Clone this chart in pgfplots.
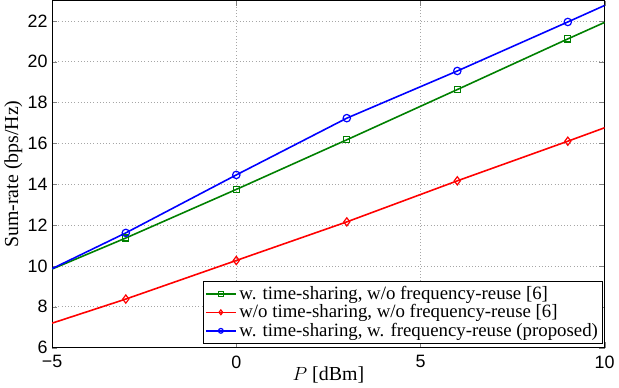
\documentclass[border=0pt]{standalone}
\usepackage{fontspec}
\setmainfont{Liberation Serif}
\newfontfamily\ticksfont{Liberation Sans}
\usepackage{pgfplots}
\pgfplotsset{compat=1.18}
\definecolor{mgreen}{rgb}{0,0.5,0}
\begin{document}
\begin{tikzpicture}
\begin{axis}[
  scale only axis,
  width=417pt, height=262pt,
  xmin=-5, xmax=10, ymin=6, ymax=23,
  xtick={-5,0,5,10},
  xticklabels={−5,0,5,10},
  ytick={6,8,...,22},
  tick label style={font=\ticksfont\fontsize{13.5}{14}\selectfont},
  xticklabel style={yshift=-2.5pt},
  /pgf/number format/assume math mode=true,
  tick align=inside,
  xtick pos=both, ytick pos=both,
  major tick length=4pt,
  grid=major,
  major grid style={gray!70, dotted, line width=0.6pt},
  axis line style={line width=0.8pt},
  xlabel={$P$ [dBm]},
  ylabel={Sum-rate (bps/Hz)},
  label style={font=\fontsize{15}{16}\selectfont},
  xlabel style={yshift=8pt},
  ylabel style={yshift=-3pt},
  legend cell align=left,
  legend style={at={(0.997,0.012)}, anchor=south east, draw=black, line width=0.6pt,
    font=\fontsize{14.2}{15}\selectfont, inner sep=1.5pt, row sep=-1.5pt},
  legend image code/.code={\draw[#1, mark indices={2}, mark size=1.8pt] plot coordinates {(0cm,0cm) (0.4cm,0cm) (0.8cm,0cm)};},
  every axis plot/.append style={line width=1.2pt},
  mark options={solid, line width=0.9pt},
]
\addplot[color=mgreen, mark=square, mark size=2.3pt, mark indices={2,3,4,5,6}] coordinates {
  (-5,9.85) (-3,11.37) (0,13.75) (3,16.18) (6,18.64) (9,21.12) (10,21.93)};
\addlegendentry{w. time-sharing, w/o frequency-reuse [6]}
\addplot[color=red, mark=diamond, mark size=3.1pt, mark indices={2,3,4,5,6}] coordinates {
  (-5,7.20) (-3,8.38) (0,10.27) (3,12.16) (6,14.17) (9,16.11) (10,16.77)};
\addlegendentry{w/o time-sharing, w/o frequency-reuse [6]}
\addplot[color=blue, mark=o, mark size=2.8pt, mark indices={2,3,4,5,6}] coordinates {
  (-5,9.87) (-3,11.62) (0,14.46) (3,17.24) (6,19.55) (9,21.95) (10,22.76)};
\addlegendentry{w. time-sharing, w. frequency-reuse (proposed)}
\end{axis}
\end{tikzpicture}
\end{document}
